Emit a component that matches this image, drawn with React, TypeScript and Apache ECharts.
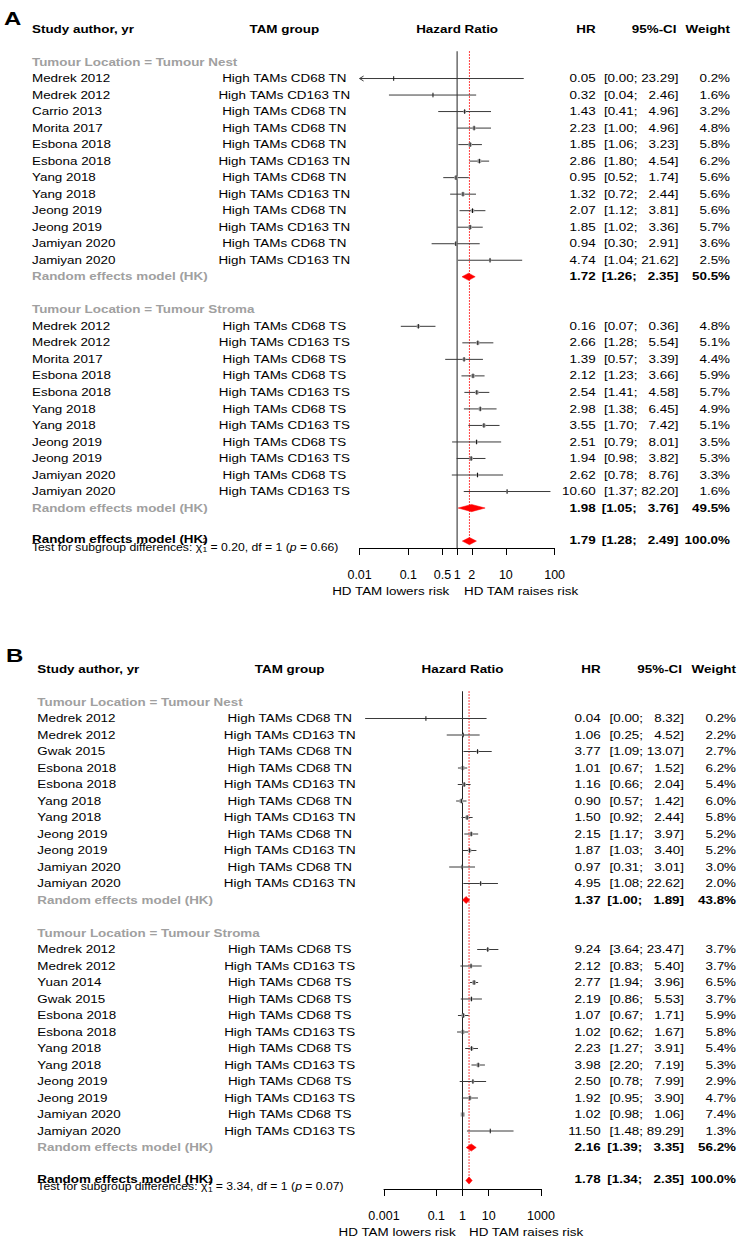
import React, { useEffect, useRef } from "react";
import * as echarts from "echarts";

const FONT = '"Liberation Sans", Arial, Helvetica, sans-serif';
const SX = 1.22; // horizontal stretch of the source figure's text
const GREY = "#a0a0a0";

// ---------------- Panel A ----------------
const aNestStudy = ["Medrek 2012", "Medrek 2012", "Carrio 2013", "Morita 2017", "Esbona 2018", "Esbona 2018", "Yang 2018", "Yang 2018", "Jeong 2019", "Jeong 2019", "Jamiyan 2020", "Jamiyan 2020"];
const aNestGroup = ["High TAMs CD68 TN", "High TAMs CD163 TN", "High TAMs CD68 TN", "High TAMs CD68 TN", "High TAMs CD68 TN", "High TAMs CD163 TN", "High TAMs CD68 TN", "High TAMs CD163 TN", "High TAMs CD68 TN", "High TAMs CD163 TN", "High TAMs CD68 TN", "High TAMs CD163 TN"];
const aNestHR = [0.05, 0.32, 1.43, 2.23, 1.85, 2.86, 0.95, 1.32, 2.07, 1.85, 0.94, 4.74];
const aNestLo = [0.0001, 0.04, 0.41, 1.0, 1.06, 1.8, 0.52, 0.72, 1.12, 1.02, 0.3, 1.04];
const aNestHi = [23.29, 2.46, 4.96, 4.96, 3.23, 4.54, 1.74, 2.44, 3.81, 3.36, 2.91, 21.62];
const aNestW = [0.2, 1.6, 3.2, 4.8, 5.8, 6.2, 5.6, 5.6, 5.6, 5.7, 3.6, 2.5];
const aNestPooled = [1.72, 1.26, 2.35, 50.5];

const aStromaStudy = ["Medrek 2012", "Medrek 2012", "Morita 2017", "Esbona 2018", "Esbona 2018", "Yang 2018", "Yang 2018", "Jeong 2019", "Jeong 2019", "Jamiyan 2020", "Jamiyan 2020"];
const aStromaGroup = ["High TAMs CD68 TS", "High TAMs CD163 TS", "High TAMs CD68 TS", "High TAMs CD68 TS", "High TAMs CD163 TS", "High TAMs CD68 TS", "High TAMs CD163 TS", "High TAMs CD68 TS", "High TAMs CD163 TS", "High TAMs CD68 TS", "High TAMs CD163 TS"];
const aStromaHR = [0.16, 2.66, 1.39, 2.12, 2.54, 2.98, 3.55, 2.51, 1.94, 2.62, 10.6];
const aStromaLo = [0.07, 1.28, 0.57, 1.23, 1.41, 1.38, 1.7, 0.79, 0.98, 0.78, 1.37];
const aStromaHi = [0.36, 5.54, 3.39, 3.66, 4.58, 6.45, 7.42, 8.01, 3.82, 8.76, 82.2];
const aStromaW = [4.8, 5.1, 4.4, 5.9, 5.7, 4.9, 5.1, 3.5, 5.3, 3.3, 1.6];
const aStromaPooled = [1.98, 1.05, 3.76, 49.5];
const aOverall = [1.79, 1.28, 2.49, 100.0];
const aTest = ["0.20", "1", "0.66"]; // chi2, df, p
const aTicks = [0.01, 0.1, 0.5, 1, 2, 10, 100];

// ---------------- Panel B ----------------
const bNestStudy = ["Medrek 2012", "Medrek 2012", "Gwak 2015", "Esbona 2018", "Esbona 2018", "Yang 2018", "Yang 2018", "Jeong 2019", "Jeong 2019", "Jamiyan 2020", "Jamiyan 2020"];
const bNestGroup = ["High TAMs CD68 TN", "High TAMs CD163 TN", "High TAMs CD68 TN", "High TAMs CD68 TN", "High TAMs CD163 TN", "High TAMs CD68 TN", "High TAMs CD163 TN", "High TAMs CD68 TN", "High TAMs CD163 TN", "High TAMs CD68 TN", "High TAMs CD163 TN"];
const bNestHR = [0.04, 1.06, 3.77, 1.01, 1.16, 0.9, 1.5, 2.15, 1.87, 0.97, 4.95];
const bNestLo = [0.00019, 0.25, 1.09, 0.67, 0.66, 0.57, 0.92, 1.17, 1.03, 0.31, 1.08];
const bNestHi = [8.32, 4.52, 13.07, 1.52, 2.04, 1.42, 2.44, 3.97, 3.4, 3.01, 22.62];
const bNestW = [0.2, 2.2, 2.7, 6.2, 5.4, 6.0, 5.8, 5.2, 5.2, 3.0, 2.0];
const bNestPooled = [1.37, 1.0, 1.89, 43.8];

const bStromaStudy = ["Medrek 2012", "Medrek 2012", "Yuan 2014", "Gwak 2015", "Esbona 2018", "Esbona 2018", "Yang 2018", "Yang 2018", "Jeong 2019", "Jeong 2019", "Jamiyan 2020", "Jamiyan 2020"];
const bStromaGroup = ["High TAMs CD68 TS", "High TAMs CD163 TS", "High TAMs CD68 TS", "High TAMs CD68 TS", "High TAMs CD68 TS", "High TAMs CD163 TS", "High TAMs CD68 TS", "High TAMs CD163 TS", "High TAMs CD68 TS", "High TAMs CD163 TS", "High TAMs CD68 TS", "High TAMs CD163 TS"];
const bStromaHR = [9.24, 2.12, 2.77, 2.19, 1.07, 1.02, 2.23, 3.98, 2.5, 1.92, 1.02, 11.5];
const bStromaLo = [3.64, 0.83, 1.94, 0.86, 0.67, 0.62, 1.27, 2.2, 0.78, 0.95, 0.98, 1.48];
const bStromaHi = [23.47, 5.4, 3.96, 5.53, 1.71, 1.67, 3.91, 7.19, 7.99, 3.9, 1.06, 89.29];
const bStromaW = [3.7, 3.7, 6.5, 3.7, 5.9, 5.8, 5.4, 5.3, 2.9, 4.7, 7.4, 1.3];
const bStromaPooled = [2.16, 1.39, 3.35, 56.2];
const bOverall = [1.78, 1.34, 2.35, 100.0];
const bTest = ["3.34", "1", "0.07"];
const bTicks = [0.001, 0.1, 1, 10, 1000];

const subgroupLabels = ["Tumour Location = Tumour Nest", "Tumour Location = Tumour Stroma"];
const pooledLabel = "Random effects model (HK)";
const headers = ["Study author, yr", "TAM group", "Hazard Ratio", "HR", "95%-CI", "Weight"];
const directionLabels = ["HD TAM lowers risk", "HD TAM raises risk"];

// ---------------- layout (pixels) ----------------
const panelsGeom = [
  { letter: "A", letterX: 4, letterY: 19, rowY0: 62, rowH: 16.52, axisY: 548, xLeft: 359.6, xRight: 554.6, xMin: 0.01, xMax: 100, plotMin: 0.01, ticks: aTicks, xStudy: 32, xGroup: 284.3, xHR: 595.6, xCI: 678.4, xW: 730, xCIHead: 676.5, lowR: 449.3, raiseL: 464 },
  { letter: "B", letterX: 6, letterY: 655.5, rowY0: 702, rowH: 16.5, axisY: 1189, xLeft: 384, xRight: 541, xMin: 0.001, xMax: 1000, plotMin: 0.00001, ticks: bTicks, xStudy: 37.3, xGroup: 289.7, xHR: 600.7, xCI: 684, xW: 736, xCIHead: 682, lowR: 455.7, raiseL: 469 },
];

let ctx: any = null;
function measure(text: string, size: number, weight = "normal", style = "normal") {
  if (!ctx) ctx = document.createElement("canvas").getContext("2d");
  ctx.font = `${style} ${weight} ${size}px ${FONT}`;
  return ctx.measureText(text).width;
}

const f2 = (v: number) => v.toFixed(2);
const ciStr = (lo: number, hi: number) => {
  const h = f2(hi);
  return `[${f2(lo)}; ${h.length < 5 ? "  " : ""}${h}]`;
};

type TextItem = { row: number; dy?: number; x: number; text: string; align: string; bold?: boolean; italic?: boolean; color?: string; size?: number; sx?: number };

function buildPanel(
  geom: any,
  subs: { study: string[]; group: string[]; hr: number[]; lo: number[]; hi: number[]; w: number[]; pooled: number[] }[],
  overall: number[],
  test: string[]
) {
  const studies: number[][] = [];
  const diamonds: number[][] = [];
  const texts: TextItem[] = [];
  const g = geom;
  texts.push({ row: -2, x: g.xStudy, text: headers[0], align: "left", bold: true });
  texts.push({ row: -2, x: g.xGroup, text: headers[1], align: "center", bold: true });
  texts.push({ row: -2, x: 0, text: headers[2], align: "center", bold: true });
  texts.push({ row: -2, x: g.xHR, text: headers[3], align: "right", bold: true });
  texts.push({ row: -2, x: g.xCIHead, text: headers[4], align: "right", bold: true });
  texts.push({ row: -2, x: g.xW, text: headers[5], align: "right", bold: true });

  const valueTexts = (r: number, hr: number, lo: number, hi: number, w: number, bold: boolean, dy = 0) => {
    texts.push({ row: r, dy, x: g.xHR, text: f2(hr), align: "right", bold });
    texts.push({ row: r, dy, x: g.xCI, text: ciStr(lo, hi), align: "right", bold });
    texts.push({ row: r, dy, x: g.xW, text: w.toFixed(1) + "%", align: "right", bold });
  };

  let r = 0;
  subs.forEach((s, si) => {
    texts.push({ row: r, x: g.xStudy, text: subgroupLabels[si], align: "left", bold: true, color: GREY });
    r++;
    s.study.forEach((name, i) => {
      studies.push([s.hr[i], s.lo[i], s.hi[i], r, s.w[i]]);
      texts.push({ row: r, x: g.xStudy, text: name, align: "left" });
      texts.push({ row: r, x: g.xGroup, text: s.group[i], align: "center" });
      valueTexts(r, s.hr[i], s.lo[i], s.hi[i], s.w[i], false);
      r++;
    });
    diamonds.push([s.pooled[0], s.pooled[1], s.pooled[2], r]);
    texts.push({ row: r, x: g.xStudy, text: pooledLabel, align: "left", bold: true, color: GREY });
    valueTexts(r, s.pooled[0], s.pooled[1], s.pooled[2], s.pooled[3], true);
    r += 2;
  });
  const overallRow = r;
  diamonds.push([overall[0], overall[1], overall[2], overallRow]);
  texts.push({ row: overallRow, dy: -1.2, x: g.xStudy, text: pooledLabel, align: "left", bold: true });
  valueTexts(overallRow, overall[0], overall[1], overall[2], overall[3], true, -0.6);

  // test for subgroup differences
  const TS = 10, TSX = 1.22, tdy = 6.4;
  const t1 = "Test for subgroup differences: χ";
  const w1 = measure(t1, TS) * TSX;
  texts.push({ row: overallRow, dy: tdy, x: g.xStudy, text: t1, align: "left", size: TS, sx: TSX });
  texts.push({ row: overallRow, dy: tdy - 6.6, x: g.xStudy + w1 + 0.3, text: "2", align: "left", size: 7, sx: TSX });
  texts.push({ row: overallRow, dy: tdy + 2.6, x: g.xStudy + w1 + 0.3, text: test[1], align: "left", size: 7, sx: TSX });
  const t2 = ` = ${test[0]}, df = ${test[1]} (`;
  const x2 = g.xStudy + w1 + 4.8;
  const w2 = measure(t2, TS) * TSX;
  texts.push({ row: overallRow, dy: tdy, x: x2, text: t2, align: "left", size: TS, sx: TSX });
  const w3 = measure("p", TS, "normal", "italic") * TSX;
  texts.push({ row: overallRow, dy: tdy, x: x2 + w2, text: "p", align: "left", size: TS, sx: TSX, italic: true });
  texts.push({ row: overallRow, dy: tdy, x: x2 + w2 + w3, text: ` = ${test[2]})`, align: "left", size: TS, sx: TSX });

  const axisRow = (g.axisY - g.rowY0) / g.rowH;
  texts.push({ row: axisRow, dy: 43.5, x: g.lowR, text: directionLabels[0], align: "right" });
  texts.push({ row: axisRow, dy: 43.5, x: g.raiseL, text: directionLabels[1], align: "left" });

  return { studies, diamonds, texts, overallRow, axisRow };
}

function buildOption() {
  const built = [
    buildPanel(panelsGeom[0], [
      { study: aNestStudy, group: aNestGroup, hr: aNestHR, lo: aNestLo, hi: aNestHi, w: aNestW, pooled: aNestPooled },
      { study: aStromaStudy, group: aStromaGroup, hr: aStromaHR, lo: aStromaLo, hi: aStromaHi, w: aStromaW, pooled: aStromaPooled },
    ], aOverall, aTest),
    buildPanel(panelsGeom[1], [
      { study: bNestStudy, group: bNestGroup, hr: bNestHR, lo: bNestLo, hi: bNestHi, w: bNestW, pooled: bNestPooled },
      { study: bStromaStudy, group: bStromaGroup, hr: bStromaHR, lo: bStromaLo, hi: bStromaHi, w: bStromaW, pooled: bStromaPooled },
    ], bOverall, bTest),
  ];
  const overalls = [aOverall, bOverall];

  const grid: any[] = [];
  const xAxis: any[] = [];
  const yAxis: any[] = [];
  const series: any[] = [];
  const graphic: any[] = [];

  panelsGeom.forEach((g, i) => {
    const b = built[i];
    const top = g.rowY0 - 3 * g.rowH;
    grid.push({ left: g.xLeft, top, width: g.xRight - g.xLeft, height: g.axisY - top, containLabel: false, outerBoundsMode: "none" });
    xAxis.push({
      type: "log",
      logBase: 10,
      gridIndex: i,
      min: g.xMin,
      max: g.xMax,
      axisLine: { show: true, onZero: false, lineStyle: { color: "#000", width: 1 } },
      axisTick: { show: true, inside: false, length: 7, customValues: g.ticks, lineStyle: { color: "#000", width: 1 } },
      axisLabel: {
        show: true,
        customValues: g.ticks,
        margin: 20,
        fontSize: 12.5,
        fontFamily: FONT,
        color: "#000",
        formatter: (v: any) => String(Number(Number(v).toPrecision(6))),
      },
      splitLine: { show: false },
      minorTick: { show: false },
    });
    yAxis.push({ type: "value", gridIndex: i, inverse: true, min: -3, max: b.axisRow, show: false });

    const refData = [[1, -0.65, b.axisRow, overalls[i][0], b.overallRow]];
    series.push({
      type: "custom",
      xAxisIndex: i,
      yAxisIndex: i,
      silent: true,
      z: 1,
      encode: { x: 0, y: 1 },
      data: refData,
      renderItem: (params: any, api: any) => {
        const top1 = api.coord([api.value(0), api.value(1)]);
        const bot1 = api.coord([api.value(0), api.value(2)]);
        const topR = api.coord([api.value(3), api.value(1)]);
        const botR = api.coord([api.value(3), api.value(4)]);
        return {
          type: "group",
          children: [
            { type: "line", shape: { x1: top1[0], y1: top1[1], x2: bot1[0], y2: bot1[1] }, style: { stroke: "#222", lineWidth: 1 } },
            { type: "line", shape: { x1: topR[0], y1: topR[1], x2: botR[0], y2: botR[1] }, style: { stroke: "#ff0000", lineWidth: 1, lineDash: [1.5, 1.5] } },
          ],
        };
      },
    });

    series.push({
      type: "custom",
      xAxisIndex: i,
      yAxisIndex: i,
      silent: true,
      z: 2,
      encode: { x: 0, y: 3 },
      data: b.studies,
      renderItem: (params: any, api: any) => {
        const hr = api.value(0), lo = api.value(1), hi = api.value(2), row = api.value(3), w = api.value(4);
        const loC = Math.max(lo, g.plotMin);
        const a = api.coord([loC, row]);
        const e = api.coord([hi, row]);
        const c = api.coord([hr, row]);
        const s = Math.sqrt(w) * 1.5;
        const children: any[] = [
          { type: "line", shape: { x1: a[0], y1: a[1], x2: e[0], y2: e[1] }, style: { stroke: "#3a3a3a", lineWidth: 1 } },
          { type: "rect", shape: { x: c[0] - s / 2, y: c[1] - s / 2, width: s, height: s }, style: { fill: "#a8a8a8" } },
          { type: "line", shape: { x1: c[0], y1: c[1] - 2.3, x2: c[0], y2: c[1] + 2.3 }, style: { stroke: "#111", lineWidth: 1 } },
        ];
        if (lo < g.plotMin) {
          children.push({
            type: "polyline",
            shape: { points: [[a[0] + 4, a[1] - 2.5], [a[0], a[1]], [a[0] + 4, a[1] + 2.5]] },
            style: { stroke: "#3a3a3a", fill: null, lineWidth: 1 },
          });
        }
        return { type: "group", children };
      },
    });

    series.push({
      type: "custom",
      xAxisIndex: i,
      yAxisIndex: i,
      silent: true,
      z: 3,
      encode: { x: 0, y: 3 },
      data: b.diamonds,
      renderItem: (params: any, api: any) => {
        const c = api.coord([api.value(0), api.value(3)]);
        const l = api.coord([api.value(1), api.value(3)]);
        const r = api.coord([api.value(2), api.value(3)]);
        const h = 3.6;
        return {
          type: "polygon",
          shape: { points: [[l[0], c[1]], [c[0], c[1] - h], [r[0], c[1]], [c[0], c[1] + h]] },
          style: { fill: "#ff0000", stroke: "#ff0000", lineWidth: 0.5 },
        };
      },
    });

    const texts = b.texts;
    series.push({
      type: "custom",
      xAxisIndex: i,
      yAxisIndex: i,
      silent: true,
      z: 4,
      encode: { x: 0, y: 1 },
      data: texts.map((t) => [1, t.row]),
      renderItem: (params: any, api: any) => {
        const t = texts[params.dataIndex];
        const p = api.coord([1, t.row]);
        const x = t.text === headers[2] && t.row === -2 ? p[0] : t.x;
        return {
          type: "text",
          x,
          y: p[1] + (t.dy || 0),
          scaleX: t.sx || SX,
          style: {
            text: t.text,
            fill: t.color || "#000",
            fontSize: t.size || 11,
            fontFamily: FONT,
            fontWeight: t.bold ? "bold" : "normal",
            fontStyle: t.italic ? "italic" : "normal",
            align: t.align,
            verticalAlign: "middle",
          },
        };
      },
    });

    graphic.push({
      type: "text",
      x: g.letterX,
      y: g.letterY,
      scaleX: 1.37,
      style: { text: g.letter, fontSize: 17.5, fontWeight: "bold", fontFamily: FONT, fill: "#000", verticalAlign: "middle", align: "left" },
    });
  });

  return { animation: false, backgroundColor: "#fff", grid, xAxis, yAxis, series, graphic };
}

export default function App() {
  const ref = useRef<HTMLDivElement>(null);
  useEffect(() => {
    document.body.style.margin = "0";
    const chart = echarts.init(ref.current as HTMLDivElement, null, { renderer: "svg" });
    chart.setOption(buildOption() as any);
    return () => chart.dispose();
  }, []);
  return <div ref={ref} style={{ width: 740, height: 1240 }} />;
}
